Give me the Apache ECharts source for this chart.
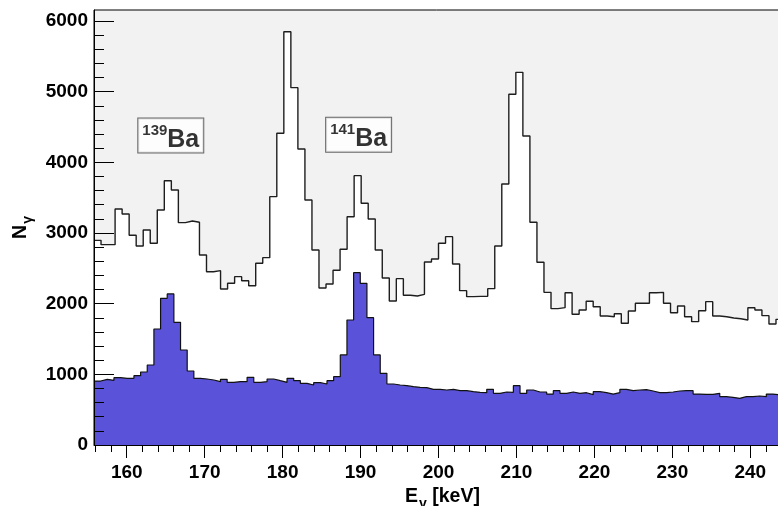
<!DOCTYPE html>
<html>
<head>
<meta charset="utf-8">
<title>Gamma spectrum</title>
<script src="https://cdn.jsdelivr.net/npm/echarts@6/dist/echarts.min.js"></script>
<style>
  html, body { margin: 0; padding: 0; background: #fff; }
  #chart { width: 778px; height: 506px; }
</style>
</head>
<body>
<div id="chart"></div>
<script>
// Histogram binning (keV)
const binStart = 155.8;
const totalBinWidth = 0.902;
const gatedBinWidth = 0.854;

// Total (ungated) spectrum, counts per bin
const totalCounts = [
  2896, 2835, 2835, 3339, 3268, 2967, 2816, 3042, 2854, 3325,
  3740, 3608, 3146, 3170, 3151, 2689, 2452, 2467, 2207, 2288,
  2382, 2325, 2254, 2571, 2651, 3514, 4411, 5848, 5056, 4188,
  3467, 2759, 2221, 2278, 2472, 2769, 3230, 3811, 3420, 3198,
  2759, 2363, 2038, 2354, 2118, 2108, 2132, 2589, 2632, 2854,
  2948, 2561, 2184, 2099, 2103, 2103, 2212, 2816, 3693, 4962,
  5273, 4372, 3151, 2585, 2160, 1929, 1943, 2155, 1849, 1910,
  2033, 1957, 1825, 1815, 1858, 1722, 1896, 2005, 2005, 2155,
  2160, 2005, 1872, 1967, 1815, 1745, 1900, 2028, 1825, 1815,
  1797, 1787, 1769, 1943, 1910, 1830, 1712, 1778
];

// Gated spectrum, counts per bin
const gatedCounts = [
  905, 929, 915, 952, 943, 943, 981, 1033, 1132, 1641,
  2076, 2137, 1736, 1344, 1047, 943, 934, 920, 896, 929,
  887, 896, 896, 958, 887, 896, 934, 910, 887, 943,
  910, 873, 849, 882, 863, 910, 967, 1274, 1769, 2438,
  2288, 1802, 1274, 1014, 863, 849, 840, 825, 816, 811,
  788, 788, 778, 788, 769, 769, 755, 745, 740, 788,
  731, 750, 745, 840, 731, 778, 750, 750, 721, 769,
  731, 750, 731, 740, 712, 755, 740, 721, 740, 788,
  769, 778, 783, 764, 740, 740, 750, 764, 769, 769,
  721, 717, 717, 731, 684, 674, 660, 684, 684, 693,
  684, 721, 712
];

// Axis ticks
const xMajorTicks = [160, 170, 180, 190, 200, 210, 220, 230, 240];
const xMinorTicks = [156, 158, 162, 164, 166, 168, 172, 174, 176, 178, 182, 184, 186, 188,
  192, 194, 196, 198, 202, 204, 206, 208, 212, 214, 216, 218, 222, 224, 226, 228,
  232, 234, 236, 238, 242];
const yMajorTicks = [0, 1000, 2000, 3000, 4000, 5000, 6000];
const yMinorTicks = [];
for (let v = 200; v < 6100; v += 200) if (v % 1000 !== 0) yMinorTicks.push(v);

// Peak annotations (isotope labels)
const isotopes = [
  { mass: '139', element: 'Ba', at: [165.65, 4380] },
  { mass: '141', element: 'Ba', at: [189.75, 4390] }
];

const xRange = [155.8, 243.68];
const yRange = [0, 6155];

// Convert per-bin counts into step points at the left bin edges
function histPoints(counts, start, width) {
  const pts = counts.map((c, i) => [start + i * width, c]);
  pts.push([start + counts.length * width, counts[counts.length - 1]]);
  return pts;
}

const FONT = 'Liberation Sans, Arial, Helvetica, sans-serif';
const tickFont = { fontFamily: FONT, fontWeight: 'bold', fontSize: 19, color: '#000', formatter: v => String(v) };

const chart = echarts.init(document.getElementById('chart'), null, { renderer: 'canvas' });
chart.setOption({
  animation: false,
  backgroundColor: '#fff',
  grid: {
    left: 94, top: 10, width: 685, height: 435,
    show: true, backgroundColor: '#f2f2f2', borderColor: '#000', borderWidth: 1,
    containLabel: false,
    outerBoundsMode: 'none'
  },
  xAxis: [
    {
      type: 'value', min: xRange[0], max: xRange[1], position: 'bottom', z: 10,
      splitLine: { show: false },
      axisLine: { show: true, lineStyle: { color: '#000', width: 1 } },
      axisTick: { show: true, inside: false, length: 13, customValues: xMajorTicks, lineStyle: { color: '#000' } },
      axisLabel: Object.assign({ show: true, margin: 18, customValues: xMajorTicks }, tickFont),
      name: '{e|E}{sub|γ}{e| [keV]}',
      nameLocation: 'middle',
      nameGap: 34,
      nameTextStyle: {
        padding: [0, 0, 0, 12],
        rich: {
          e: { fontFamily: FONT, fontWeight: 'bold', fontSize: 19.5, lineHeight: 20, verticalAlign: 'top', color: '#000' },
          sub: { fontFamily: FONT, fontWeight: 'bold', fontSize: 14, lineHeight: 14, padding: [10, 0, 0, 1], verticalAlign: 'top', color: '#000' }
        }
      }
    },
    {
      type: 'value', min: xRange[0], max: xRange[1], position: 'bottom', z: 10,
      splitLine: { show: false },
      axisLine: { show: false },
      axisLabel: { show: false },
      axisTick: { show: true, inside: false, length: 7, customValues: xMinorTicks, lineStyle: { color: '#000' } }
    }
  ],
  yAxis: [
    {
      type: 'value', min: yRange[0], max: yRange[1], position: 'left', z: 10,
      splitLine: { show: false },
      axisLine: { show: true, lineStyle: { color: '#000', width: 1 } },
      axisTick: { show: true, inside: true, length: 20, customValues: yMajorTicks, lineStyle: { color: '#000' } },
      axisLabel: Object.assign({ show: true, margin: 6, customValues: yMajorTicks }, tickFont),
      name: '{n|N}{sub|γ}',
      nameLocation: 'middle',
      nameGap: 62,
      nameRotate: 90,
      nameTextStyle: {
        rich: {
          n: { fontFamily: FONT, fontWeight: 'bold', fontSize: 19.5, lineHeight: 20, verticalAlign: 'top', color: '#000' },
          sub: { fontFamily: FONT, fontWeight: 'bold', fontSize: 14, lineHeight: 14, padding: [10, 0, 0, 1], verticalAlign: 'top', color: '#000' }
        }
      }
    },
    {
      type: 'value', min: yRange[0], max: yRange[1], position: 'left', z: 10,
      splitLine: { show: false },
      axisLine: { show: false },
      axisLabel: { show: false },
      axisTick: { show: true, inside: true, length: 10, customValues: yMinorTicks, lineStyle: { color: '#000' } }
    }
  ],
  series: [
    {
      name: 'total',
      type: 'line',
      xAxisIndex: 0, yAxisIndex: 0,
      step: 'end',
      showSymbol: false,
      symbol: 'none',
      z: 2,
      data: histPoints(totalCounts, binStart, totalBinWidth),
      lineStyle: { color: '#1e1e1e', width: 1.4 },
      areaStyle: { color: '#ffffff', opacity: 1, origin: 'start' }
    },
    {
      name: 'gated',
      type: 'line',
      xAxisIndex: 0, yAxisIndex: 0,
      step: 'end',
      showSymbol: false,
      symbol: 'none',
      z: 3,
      data: histPoints(gatedCounts, binStart, gatedBinWidth),
      lineStyle: { color: '#111', width: 1.2 },
      areaStyle: { color: '#5a53d9', opacity: 1, origin: 'start' }
    },
    {
      name: 'isotopes',
      type: 'scatter',
      xAxisIndex: 0, yAxisIndex: 0,
      z: 5,
      symbolSize: 1,
      itemStyle: { color: 'rgba(0,0,0,0)' },
      data: isotopes.map(d => ({ value: d.at, mass: d.mass, element: d.element })),
      label: {
        show: true,
        position: 'inside',
        formatter: p => '{sup|' + p.data.mass + '}{main|' + p.data.element + '}',
        backgroundColor: '#fff',
        borderColor: '#444',
        borderWidth: 1,
        padding: [5, 4, 4, 4],
        rich: {
          sup: { fontFamily: FONT, fontWeight: 'bold', fontSize: 15, lineHeight: 15, verticalAlign: 'top', color: '#000' },
          main: { fontFamily: FONT, fontWeight: 'bold', fontSize: 25, lineHeight: 25, padding: [4, 0, 0, 0], verticalAlign: 'top', color: '#000' }
        }
      },
      emphasis: { disabled: true }
    }
  ]
});
</script>
</body>
</html>
